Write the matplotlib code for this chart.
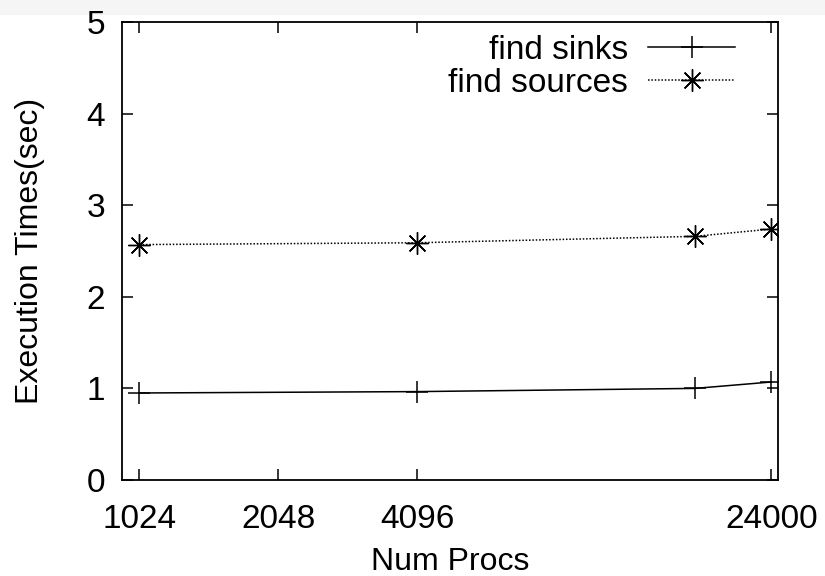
import matplotlib
matplotlib.use("Agg")
import matplotlib.pyplot as plt
from matplotlib.patches import Rectangle

# data
procs = [1024, 4096, 16384, 24000]
find_sinks = [0.95, 0.965, 1.0, 1.07]
find_sources = [2.57, 2.59, 2.66, 2.74]
xtick_vals = [1024, 2048, 4096, 24000]
xtick_labels = ["1024", "2048", "4096", "24000"]

plt.rcParams["font.family"] = ["Liberation Sans", "DejaVu Sans"]

fig = plt.figure(figsize=(8.25, 5.76), dpi=100)
# light strip at the top of the screenshot
fig.patches.append(Rectangle((0, 1 - 14 / 576), 1, 14 / 576, transform=fig.transFigure,
                             color="#f5f5f5", zorder=-1))
ax = fig.add_axes([122 / 825, 1 - 480 / 576, (778 - 122) / 825, (480 - 22) / 576])

ax.plot(procs, find_sinks, color="black", lw=1.1, marker="+", ms=16, mew=1.1,
        label="find sinks")
ax.plot(procs, find_sources, color="black", lw=1.1, ls=(0, (1, 1.2)), marker=(8, 2, 0),
        ms=16, mew=1.0, label="find sources")

ax.set_xscale("log", base=2)
ax.set_xlim(940, 24800)
ax.set_ylim(0, 5)
ax.set_xticks(xtick_vals)
ax.set_xticklabels(xtick_labels)
ax.minorticks_off()
ax.set_yticks([0, 1, 2, 3, 4, 5])

ax.tick_params(direction="in", top=True, right=True, length=8, width=1.1,
               labelsize=24)
ax.tick_params(axis="x", pad=17)
ax.tick_params(axis="y", pad=12)
for s in ax.spines.values():
    s.set_linewidth(1.3)

ax.set_xlabel("Num Procs", fontsize=23, labelpad=9)
ax.set_ylabel("Execution Times(sec)", fontsize=23, labelpad=30)

ax.legend(loc="upper right", bbox_to_anchor=(735 / 825, 1 - 35 / 576),
          bbox_transform=fig.transFigure, frameon=False, markerfirst=False,
          fontsize=24, handlelength=2.6, handletextpad=0.6, borderaxespad=0,
          borderpad=0, labelspacing=0.05)

fig.savefig("out.png", dpi=100)
